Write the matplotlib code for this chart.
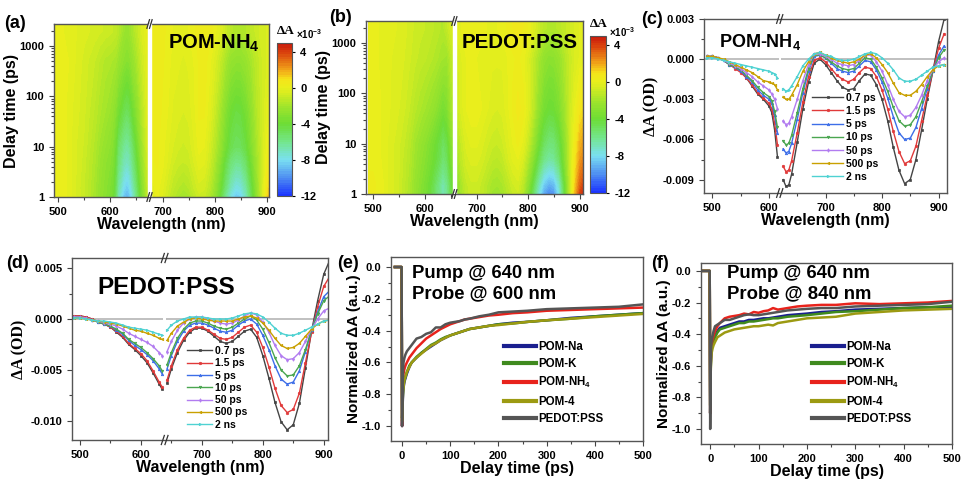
import numpy as np
import matplotlib
matplotlib.use("Agg")
import matplotlib.pyplot as plt
from matplotlib.colors import LinearSegmentedColormap
from matplotlib.ticker import AutoMinorLocator, FormatStrFormatter, MultipleLocator
from matplotlib.transforms import blended_transform_factory

plt.rcParams['font.family'] = ['Liberation Sans', 'DejaVu Sans']
plt.rcParams['font.weight'] = 'bold'
plt.rcParams['axes.labelweight'] = 'bold'
plt.rcParams['axes.unicode_minus'] = False
plt.rcParams['mathtext.fontset'] = 'custom'
plt.rcParams['mathtext.rm'] = 'Liberation Sans:bold'
plt.rcParams['mathtext.bf'] = 'Liberation Sans:bold'
plt.rcParams['mathtext.default'] = 'bf'

# ---------------- data (spectra in units of 1e-3 OD) ----------------
delay_labels = ['0.7 ps', '1.5 ps', '5 ps', '10 ps', '50 ps', '500 ps', '2 ns']
delays_ps = [0.7, 1.5, 5, 10, 50, 500, 2000]

# panel (c): POM-NH4
wl_c_left = [490, 500, 510, 520, 530, 540, 550, 560, 570, 580, 590, 600, 605, 610, 615]
wl_c_right = [625, 630, 635, 640, 650, 660, 670, 680, 690, 700, 710, 720, 730, 740, 750, 760,
              770, 780, 790, 800, 810, 820, 830, 840, 850, 860, 870, 880, 890, 900, 910]
c_left = [
    [0.2, 0.2, 0.1, -0.1, -0.4, -0.6, -0.9, -1.4, -2.0, -2.6, -3.0, -3.5, -4.0, -5.3, -7.3],
    [0.2, 0.2, 0.1, -0.1, -0.4, -0.7, -1.0, -1.4, -1.9, -2.5, -2.9, -3.3, -3.7, -4.8, -6.4],
    [0.2, 0.2, 0.1, -0.1, -0.4, -0.6, -0.9, -1.3, -1.7, -2.3, -2.7, -3.0, -3.3, -4.2, -5.5],
    [0.2, 0.2, 0.1, -0.1, -0.4, -0.6, -0.8, -1.2, -1.6, -2.1, -2.5, -2.8, -3.1, -3.9, -5.1],
    [0.2, 0.2, 0.1, -0.1, -0.3, -0.5, -0.7, -1.0, -1.3, -1.7, -2.0, -2.3, -2.6, -3.0, -3.7],
    [0.2, 0.2, 0.1, 0.0, -0.2, -0.4, -0.6, -0.8, -1.0, -1.3, -1.6, -1.7, -1.8, -1.9, -2.3],
    [0.1, 0.1, 0.0, -0.1, -0.2, -0.3, -0.4, -0.5, -0.6, -0.7, -0.8, -0.9, -1.0, -1.1, -1.4],
]
c_right = [
    [-9.0, -9.5, -9.4, -8.6, -6.2, -3.7, -1.7, -0.3, 0.0, -0.4, -1.0, -1.6, -2.1, -2.3, -2.2, -1.6,
     -1.1, -1.2, -1.9, -3.0, -4.6, -6.6, -8.3, -9.3, -9.0, -7.5, -5.3, -3.0, -0.9, 1.3, 3.0],
    [-8.0, -8.4, -8.3, -7.6, -5.5, -3.2, -1.3, -0.1, 0.1, -0.2, -0.7, -1.2, -1.5, -1.7, -1.5, -1.0,
     -0.6, -0.7, -1.3, -2.3, -3.7, -5.4, -6.9, -7.8, -7.6, -6.5, -4.6, -2.7, -0.9, 0.8, 1.9],
    [-6.7, -7.0, -6.9, -6.3, -4.5, -2.5, -0.9, 0.2, 0.3, 0.1, -0.3, -0.7, -0.9, -1.0, -0.9, -0.5,
     -0.1, -0.2, -0.8, -1.7, -2.9, -4.3, -5.5, -6.0, -5.9, -5.1, -3.7, -2.2, -0.9, 0.3, 1.0],
    [-6.1, -6.4, -6.3, -5.7, -4.0, -2.2, -0.7, 0.3, 0.3, 0.1, -0.2, -0.5, -0.7, -0.8, -0.7, -0.3,
     0.1, 0.0, -0.6, -1.4, -2.4, -3.6, -4.6, -5.0, -4.9, -4.3, -3.2, -2.0, -0.9, 0.1, 0.7],
    [-4.6, -4.9, -4.8, -4.3, -3.0, -1.6, -0.4, 0.4, 0.4, 0.2, 0.0, -0.3, -0.4, -0.5, -0.4, -0.1,
     0.3, 0.3, -0.2, -0.9, -1.9, -3.0, -3.9, -4.3, -4.2, -3.6, -2.7, -1.6, -0.8, -0.2, 0.1],
    [-2.8, -3.0, -3.0, -2.7, -1.9, -0.9, -0.2, 0.4, 0.5, 0.3, 0.1, -0.1, -0.2, -0.3, -0.2, 0.0,
     0.3, 0.4, 0.1, -0.4, -1.0, -1.8, -2.5, -2.7, -2.7, -2.4, -1.9, -1.3, -0.8, -0.5, -0.4],
    [-2.2, -2.4, -2.3, -2.0, -1.3, -0.5, 0.0, 0.4, 0.5, 0.3, 0.2, 0.0, -0.1, -0.1, 0.0, 0.2,
     0.4, 0.5, 0.4, 0.1, -0.3, -0.8, -1.4, -1.65, -1.65, -1.5, -1.2, -0.9, -0.6, -0.5, -0.4],
]

# panel (d): PEDOT:PSS
wl_d_left = [490, 500, 510, 520, 530, 540, 550, 560, 570, 580, 590, 600, 610, 620, 630, 635]
wl_d_right = [643, 650, 660, 670, 680, 690, 700, 710, 720, 730, 740, 750, 760, 770, 780, 790,
              800, 810, 820, 830, 840, 850, 860, 870, 880, 890, 900, 910]
d_left = [
    [0.3, 0.3, 0.2, 0.0, -0.3, -0.5, -0.8, -1.3, -1.8, -2.5, -3.0, -3.6, -4.3, -5.3, -6.4, -6.9],
    [0.3, 0.3, 0.2, 0.0, -0.3, -0.5, -0.8, -1.2, -1.7, -2.4, -2.9, -3.4, -4.1, -5.1, -6.2, -6.7],
    [0.2, 0.2, 0.1, -0.1, -0.3, -0.5, -0.7, -1.1, -1.5, -2.1, -2.6, -3.0, -3.5, -4.1, -4.9, -5.4],
    [0.2, 0.2, 0.1, -0.1, -0.3, -0.5, -0.7, -1.0, -1.4, -2.0, -2.4, -2.8, -3.3, -3.9, -4.6, -5.1],
    [0.2, 0.2, 0.1, -0.1, -0.2, -0.4, -0.5, -0.7, -1.0, -1.4, -1.7, -2.0, -2.3, -2.7, -3.3, -3.6],
    [0.1, 0.1, 0.0, -0.1, -0.2, -0.3, -0.4, -0.5, -0.7, -0.9, -1.1, -1.2, -1.4, -1.6, -1.9, -2.0],
    [0.1, 0.1, 0.0, -0.1, -0.2, -0.2, -0.3, -0.4, -0.6, -0.8, -0.9, -1.0, -1.1, -1.3, -1.5, -1.6],
]
d_right = [
    [-6.3, -4.9, -3.3, -2.1, -1.3, -0.9, -0.9, -1.2, -1.7, -2.2, -2.4, -2.2, -1.7, -1.2, -1.0, -1.8,
     -3.6, -5.8, -8.2, -10.1, -10.9, -10.4, -8.3, -4.8, -1.2, 1.8, 4.4, 5.8],
    [-6.0, -4.6, -3.0, -1.9, -1.1, -0.8, -0.8, -1.1, -1.5, -1.9, -2.0, -1.8, -1.3, -0.8, -0.6, -1.3,
     -2.8, -4.7, -6.8, -8.5, -9.2, -8.9, -7.3, -4.3, -1.3, 1.2, 3.2, 4.2],
    [-4.9, -3.6, -2.2, -1.2, -0.6, -0.4, -0.4, -0.6, -0.9, -1.2, -1.3, -1.1, -0.6, -0.2, 0.0, -0.5,
     -1.6, -3.0, -4.6, -5.9, -6.4, -6.2, -5.1, -3.2, -1.1, 0.7, 2.2, 2.8],
    [-4.5, -3.3, -1.9, -1.0, -0.4, -0.2, -0.2, -0.4, -0.7, -0.9, -1.0, -0.8, -0.4, 0.0, 0.3, -0.1,
     -1.0, -2.3, -3.8, -5.0, -5.6, -5.5, -4.6, -3.0, -1.1, 0.5, 1.8, 2.3],
    [-3.2, -2.2, -1.1, -0.4, 0.0, 0.2, 0.2, 0.0, -0.2, -0.4, -0.5, -0.4, -0.1, 0.3, 0.6, 0.4,
     -0.3, -1.3, -2.6, -3.6, -4.0, -3.9, -3.3, -2.2, -1.0, 0.0, 0.8, 1.1],
    [-2.1, -1.4, -0.7, -0.3, 0.0, 0.1, 0.0, -0.1, -0.2, -0.2, -0.2, -0.2, 0.0, 0.2, 0.3, 0.1,
     -0.4, -1.1, -1.9, -2.6, -2.9, -2.8, -2.4, -1.7, -1.0, -0.5, -0.2, -0.1],
    [-1.1, -0.6, -0.2, 0.0, 0.2, 0.2, 0.2, 0.1, 0.0, 0.0, 0.0, 0.1, 0.3, 0.5, 0.6, 0.5,
     0.2, -0.3, -0.9, -1.4, -1.6, -1.6, -1.4, -1.1, -0.8, -0.5, -0.2, -0.1],
]

# kinetics (normalized)
kin_labels = ['POM-Na', 'POM-K', 'POM-NH$_4$', 'POM-4', 'PEDOT:PSS']
t_ps = [-15, -5, -1, 0, 1, 2, 3, 5, 7, 10, 15, 20, 30, 40, 50, 60, 70, 80, 90, 100, 110, 120,
        130, 140, 160, 180, 200, 230, 260, 300, 350, 400, 450, 500]
kin_e = [
    [0, 0, 0, -1.0, -0.88, -0.80, -0.76, -0.72, -0.70, -0.67, -0.63, -0.60, -0.57, -0.54, -0.52, -0.50,
     -0.48, -0.46, -0.445, -0.43, -0.42, -0.41, -0.40, -0.39, -0.38, -0.37, -0.36, -0.35, -0.345,
     -0.335, -0.32, -0.31, -0.30, -0.29],
    [0, 0, 0, -0.95, -0.85, -0.78, -0.74, -0.71, -0.69, -0.66, -0.62, -0.60, -0.565, -0.54, -0.515,
     -0.49, -0.475, -0.455, -0.44, -0.43, -0.42, -0.41, -0.40, -0.39, -0.38, -0.37, -0.36, -0.355,
     -0.345, -0.335, -0.325, -0.31, -0.30, -0.29],
    [0, 0, 0, -1.0, -0.80, -0.70, -0.67, -0.64, -0.62, -0.60, -0.57, -0.55, -0.51, -0.48, -0.45, -0.43,
     -0.41, -0.39, -0.375, -0.36, -0.35, -0.34, -0.33, -0.325, -0.315, -0.305, -0.30, -0.29, -0.285,
     -0.275, -0.27, -0.265, -0.26, -0.255],
    [0, 0, 0, -0.97, -0.86, -0.79, -0.75, -0.71, -0.69, -0.66, -0.63, -0.60, -0.57, -0.545, -0.52,
     -0.495, -0.48, -0.46, -0.445, -0.43, -0.42, -0.41, -0.40, -0.39, -0.38, -0.37, -0.365, -0.355,
     -0.345, -0.335, -0.325, -0.315, -0.305, -0.295],
    [0, 0, 0, -1.0, -0.80, -0.65, -0.60, -0.57, -0.55, -0.53, -0.51, -0.49, -0.45, -0.44, -0.42, -0.41,
     -0.38, -0.38, -0.36, -0.35, -0.345, -0.34, -0.33, -0.325, -0.31, -0.30, -0.285, -0.28, -0.275,
     -0.265, -0.26, -0.255, -0.25, -0.235],
]
kin_f = [
    [0, 0, 0, -0.9, -0.62, -0.52, -0.48, -0.45, -0.43, -0.41, -0.38, -0.36, -0.35, -0.34, -0.33, -0.32,
     -0.32, -0.31, -0.31, -0.305, -0.30, -0.30, -0.295, -0.29, -0.28, -0.275, -0.27, -0.26, -0.255,
     -0.245, -0.24, -0.235, -0.23, -0.23],
    [0, 0, 0, -0.9, -0.63, -0.53, -0.49, -0.46, -0.44, -0.42, -0.39, -0.37, -0.36, -0.35, -0.34, -0.33,
     -0.33, -0.32, -0.32, -0.315, -0.31, -0.305, -0.30, -0.30, -0.29, -0.285, -0.28, -0.27, -0.26,
     -0.255, -0.245, -0.235, -0.23, -0.22],
    [0, 0, 0, -0.9, -0.60, -0.50, -0.46, -0.43, -0.41, -0.38, -0.35, -0.33, -0.30, -0.29, -0.285, -0.28,
     -0.27, -0.275, -0.26, -0.265, -0.255, -0.25, -0.235, -0.245, -0.235, -0.225, -0.22, -0.215,
     -0.215, -0.205, -0.21, -0.205, -0.20, -0.19],
    [0, 0, 0, -0.85, -0.65, -0.56, -0.52, -0.49, -0.47, -0.45, -0.42, -0.41, -0.39, -0.38, -0.37,
     -0.365, -0.36, -0.355, -0.35, -0.35, -0.345, -0.34, -0.345, -0.33, -0.32, -0.31, -0.30, -0.295,
     -0.29, -0.27, -0.26, -0.25, -0.245, -0.24],
    [0, 0, 0, -1.0, -0.60, -0.48, -0.44, -0.41, -0.38, -0.35, -0.34, -0.33, -0.31, -0.31, -0.30, -0.29,
     -0.28, -0.275, -0.28, -0.28, -0.275, -0.27, -0.265, -0.26, -0.25, -0.245, -0.24, -0.235, -0.235,
     -0.225, -0.22, -0.215, -0.21, -0.195],
]

spec_colors = ['#444444', '#e03a3a', '#3d6ee8', '#4aa650', '#b27cf0', '#c9a000', '#4fd2d2']
spec_markers = ['s', 'o', '^', 'v', 'd', '<', '>']
kin_colors = ['#1a1f8f', '#3f8a1e', '#e8231c', '#9c9a12', '#555555']

# colormap of the transient maps (value, colour)
cmap_nodes = [(-12, '#1a33ff'), (-10, '#4d8cf2'), (-8, '#7ae0f2'), (-6, '#74e68c'),
              (-4, '#6cdc35'), (-2, '#a2e52b'), (-1, '#c6ea24'), (0, '#e8ef1c'),
              (1, '#f5e41a'), (2, '#f2a619'), (4, '#d9400d'), (5, '#c8190c')]
vmin, vmax = -12, 5
cmap = LinearSegmentedColormap.from_list(
    'ta', [((v - vmin) / (vmax - vmin), c) for v, c in cmap_nodes])

W, H = 975, 483
fig = plt.figure(figsize=(W / 100, H / 100), dpi=100)


def box(l, t, r, b):
    return [l / W, 1 - b / H, (r - l) / W, (b - t) / H]


def ftext(x, y, s, **kw):
    fig.text(x / W, 1 - y / H, s, **kw)


def style(ax):
    for sp in ax.spines.values():
        sp.set_color('#555555')
        sp.set_linewidth(1.0)
    ax.tick_params(which='both', direction='out', labelsize=8, width=0.8, color='#444444',
                   top=False, right=False)
    ax.tick_params(which='major', length=3.5)
    ax.tick_params(which='minor', length=2)
    for lab in ax.get_xticklabels() + ax.get_yticklabels():
        lab.set_fontweight('bold')


def break_marks(ax, x, dx=3.0):
    tr = blended_transform_factory(ax.transData, ax.transAxes)
    for y in (0, 1):
        for off in (-dx, dx):
            ax.plot([x + off - 2.5, x + off + 2.5], [y - 0.025, y + 0.025], transform=tr,
                    color='#333333', lw=0.9, clip_on=False, zorder=6)


def draw_map(ax, cax, wl_l, wl_r, left, right, gap, xlim):
    wl = np.array(wl_l + wl_r)
    z = np.array([l + r for l, r in zip(left, right)])
    # hold the last measured spectrum up to the top of the time window
    z = np.vstack([z, z[-1]])
    y = np.log10(delays_ps + [3000])
    z = np.clip(z, vmin, vmax)
    cs = ax.contourf(wl, y, z, levels=np.linspace(vmin, vmax, 69), cmap=cmap,
                     vmin=vmin, vmax=vmax)
    ax.axvspan(gap - 2.5, gap + 2.5, color='white', zorder=3)
    ax.set_xlim(*xlim)
    ax.set_ylim(0, 3.44)
    ax.set_yticks([0, 1, 2, 3])
    ax.set_yticklabels(['1', '10', '100', '1000'])
    ax.set_yticks([np.log10(k * 10 ** d) for d in range(4) for k in range(2, 10)
                   if k * 10 ** d < 2800], minor=True)
    ax.xaxis.set_major_locator(MultipleLocator(100))
    ax.xaxis.set_minor_locator(MultipleLocator(50))
    ax.set_xlabel('Wavelength (nm)', fontsize=11.5, labelpad=0)
    ax.set_ylabel('Delay time (ps)', fontsize=11.5, labelpad=0)
    style(ax)
    break_marks(ax, gap, dx=2.5)
    cb = fig.colorbar(cs, cax=cax, ticks=[-12, -8, -4, 0, 4])
    cb.outline.set_edgecolor('#555555')
    cb.outline.set_linewidth(0.8)
    cax.tick_params(labelsize=8, length=2.5, width=0.8)
    for lab in cax.get_yticklabels():
        lab.set_fontweight('bold')


def draw_spectra(ax, wl_l, wl_r, left, right, gap, xlim, ylim, ystep, zero_gap):
    ax.hlines([0, 0], [xlim[0], zero_gap[1]], [zero_gap[0], xlim[1]], color='#b5b5b5', lw=1.2,
              zorder=1)
    for i in range(len(left)):
        kw = dict(color=spec_colors[i], marker=spec_markers[i], ms=1.8, lw=1.0, mew=0.5)
        ax.plot(wl_l, np.array(left[i]) * 1e-3, label=delay_labels[i], **kw)
        ax.plot(wl_r, np.array(right[i]) * 1e-3, **kw)
    ax.set_xlim(*xlim)
    ax.set_ylim(*ylim)
    ax.xaxis.set_major_locator(MultipleLocator(100))
    ax.xaxis.set_minor_locator(MultipleLocator(50))
    ax.yaxis.set_major_locator(MultipleLocator(ystep))
    ax.yaxis.set_minor_locator(AutoMinorLocator(2))
    ax.yaxis.set_major_formatter(FormatStrFormatter('%.3f'))
    ax.set_xlabel('Wavelength (nm)', fontsize=11.5, labelpad=0)
    ax.set_ylabel('ΔA (OD)', fontsize=11.5, family=['Liberation Serif', 'DejaVu Serif'],
                  labelpad=2)
    style(ax)
    break_marks(ax, gap)


def draw_kinetics(ax, kin, xlim, ylim):
    for i in range(len(kin)):
        ax.plot(t_ps, kin[i], color=kin_colors[i], lw=1.8, label=kin_labels[i])
    ax.set_xlim(*xlim)
    ax.set_ylim(*ylim)
    ax.xaxis.set_major_locator(MultipleLocator(100))
    ax.xaxis.set_minor_locator(MultipleLocator(50))
    ax.yaxis.set_major_locator(MultipleLocator(0.2))
    ax.yaxis.set_minor_locator(MultipleLocator(0.1))
    ax.yaxis.set_major_formatter(FormatStrFormatter('%.1f'))
    ax.set_xlabel('Delay time (ps)', fontsize=11.5, labelpad=0)
    ax.set_ylabel('Normalized ΔA (a.u.)', fontsize=11, labelpad=1)
    style(ax)


def kin_legend(ax, x, y):
    leg = ax.legend(loc='upper left', bbox_to_anchor=(x / W, 1 - y / H),
                    bbox_transform=fig.transFigure, frameon=False, fontsize=8.3,
                    handlelength=2.8, handletextpad=0.15, labelspacing=0.45, borderpad=0,
                    borderaxespad=0)
    for ln in leg.get_lines():
        ln.set_linewidth(3)


# (a) map POM-NH4
ax_a = fig.add_axes(box(54, 24, 269, 197))
cax_a = fig.add_axes(box(277, 43, 292, 196))
draw_map(ax_a, cax_a, wl_c_left, wl_c_right, c_left, c_right, 675, (492, 904))
ftext(168, 43, 'POM-NH$_4$', fontsize=14.5, va='center', ha='left')
ftext(277, 31, 'ΔA', fontsize=9.5, va='center', ha='left', family=['Liberation Serif', 'DejaVu Serif'])
ftext(296, 34, '×10$^{-3}$', fontsize=7, va='center', ha='left')

# (b) map PEDOT:PSS
ax_b = fig.add_axes(box(366, 21, 583, 194))
cax_b = fig.add_axes(box(590, 36, 606, 193))
draw_map(ax_b, cax_b, wl_d_left, wl_d_right, d_left, d_right, 657, (486, 906))
ftext(462, 42, 'PEDOT:PSS', fontsize=14.8, va='center', ha='left')
ftext(590, 24, 'ΔA', fontsize=9.5, va='center', ha='left', family=['Liberation Serif', 'DejaVu Serif'])
ftext(609, 32, '×10$^{-3}$', fontsize=7, va='center', ha='left')

# (c) spectra POM-NH4
ax_c = fig.add_axes(box(704, 19, 947, 193))
draw_spectra(ax_c, wl_c_left, wl_c_right, c_left, c_right, 619, (485, 915),
             (-0.010, 0.003), 0.003, (617, 622))
ftext(719, 42, 'POM-NH$_4$', fontsize=13, va='center', ha='left')
ax_c.legend(loc='upper left', bbox_to_anchor=(812 / W, 1 - 93 / H), bbox_transform=fig.transFigure,
            frameon=False, fontsize=7.5, handlelength=3.0, handletextpad=0.3, labelspacing=0.3,
            borderpad=0, borderaxespad=0, markerscale=1.0)

# (d) spectra PEDOT:PSS
ax_d = fig.add_axes(box(72, 258, 328, 440))
draw_spectra(ax_d, wl_d_left, wl_d_right, d_left, d_right, 639, (487, 907),
             (-0.0119, 0.006), 0.005, (636, 642))
ftext(97, 287, 'PEDOT:PSS', fontsize=17.5, va='center', ha='left')
ax_d.legend(loc='upper left', bbox_to_anchor=(187 / W, 1 - 346 / H), bbox_transform=fig.transFigure,
            frameon=False, fontsize=7.5, handlelength=2.4, handletextpad=0.3, labelspacing=0.22,
            borderpad=0, borderaxespad=0)

# (e) kinetics probe 600 nm
ax_e = fig.add_axes(box(391, 257, 643, 441))
draw_kinetics(ax_e, kin_e, (-23, 500), (-1.094, 0.063))
ftext(412, 273, 'Pump @ 640 nm', fontsize=13.3, va='center', ha='left')
ftext(412, 294, 'Probe @ 600 nm', fontsize=13.3, va='center', ha='left')
kin_legend(ax_e, 504, 341)

# (f) kinetics probe 840 nm
ax_f = fig.add_axes(box(701, 263, 952, 444))
draw_kinetics(ax_f, kin_f, (-19, 500), (-1.095, 0.05))
ftext(727, 274, 'Pump @ 640 nm', fontsize=13.3, va='center', ha='left')
ftext(727, 294, 'Probe @ 840 nm', fontsize=13.3, va='center', ha='left')
kin_legend(ax_f, 812, 341)

# panel letters
for s, x, y in [('(a)', 4, 23), ('(b)', 329, 17), ('(c)', 641, 20),
                ('(d)', 6, 264), ('(e)', 337, 264), ('(f)', 651, 263)]:
    ftext(x, y, s, fontsize=13, va='center', ha='left')

fig.savefig('out.png', dpi=100)
